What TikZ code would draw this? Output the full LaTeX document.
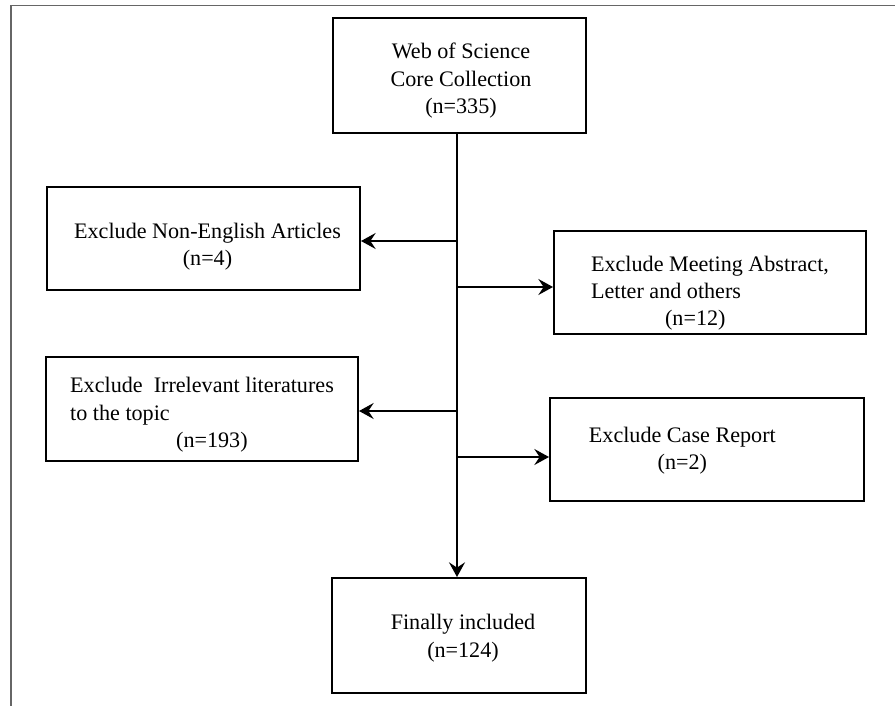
\documentclass[tikz,border=0pt]{standalone}
\usepackage{fontspec}
\setmainfont{Liberation Serif}
\usepackage{tikz}
\usetikzlibrary{arrows.meta}
\definecolor{frameColor}{rgb}{0.4,0.4,0.4}

\begin{document}
\begin{tikzpicture}[x=0.75pt,y=-0.75pt]

          \tikzstyle{boxNode} = [draw, line width=1.5pt, inner sep=0pt];
          \tikzstyle{textNode} = [inner sep=0pt, font=\fontsize{16.6pt}{20.5pt}\selectfont];
          \tikzstyle{arrowEdge} = [line width=1.5pt, -{Stealth[length=11pt,width=12pt,inset=4pt]}];
          \tikzstyle{frameEdge} = [line width=1.1pt, frameColor];

          \useasboundingbox (0,0) rectangle (895,706);
          \draw[frameEdge] (11,706) -- (11,5.7) -- (895,5.7);

          \node[boxNode, minimum width=189.75pt, minimum height=86.25pt,
                label={[textNode, align=center, yshift=-4pt, xshift=1.5pt]center:{Web of Science\\Core Collection\\(n=335)}}] (wos) at (459,75.5) {};
          \node[boxNode, minimum width=234.75pt, minimum height=77.25pt,
                label={[textNode, align=center, yshift=-6pt, xshift=3pt]center:{Exclude Non-English Articles\\(n=4)}}] (nonEng) at (203.5,238.5) {};
          \node[boxNode, minimum width=234pt, minimum height=77.25pt,
                label={[textNode, align=left, yshift=-8pt]center:{Exclude Meeting Abstract,\\Letter and others\\\hspace*{55.5pt}(n=12)}}] (meeting) at (710,282.5) {};
          \node[boxNode, minimum width=234pt, minimum height=78pt,
                label={[textNode, align=left, yshift=-4.5pt]center:{Exclude\ \ Irrelevant literatures\\to the topic\\\hspace*{79.5pt}(n=193)}}] (irrel) at (202,409) {};
          \node[boxNode, minimum width=235.5pt, minimum height=77.25pt,
                label={[textNode, align=center, yshift=-1pt, xshift=-18.5pt]center:{Exclude Case Report\\(n=2)}}] (caseRep) at (707,449.5) {};
          \node[boxNode, minimum width=190.5pt, minimum height=86.25pt,
                label={[textNode, align=center, yshift=-2pt, xshift=3pt]center:{Finally included\\(n=124)}}] (final) at (459,635.5) {};

          \coordinate (brNonEng) at (457,241);
          \coordinate (brMeeting) at (457,287);
          \coordinate (brIrrel) at (457,411);
          \coordinate (brCase) at (457,457);

          \draw[arrowEdge] (wos.south -| brNonEng) -- (final.north -| brNonEng);
          \draw[arrowEdge] (brNonEng) -- (brNonEng -| nonEng.east);
          \draw[arrowEdge] (brMeeting) -- (brMeeting -| meeting.west);
          \draw[arrowEdge] (brIrrel) -- (brIrrel -| irrel.east);
          \draw[arrowEdge] (brCase) -- (brCase -| caseRep.west);
        \end{tikzpicture}
\end{document}
